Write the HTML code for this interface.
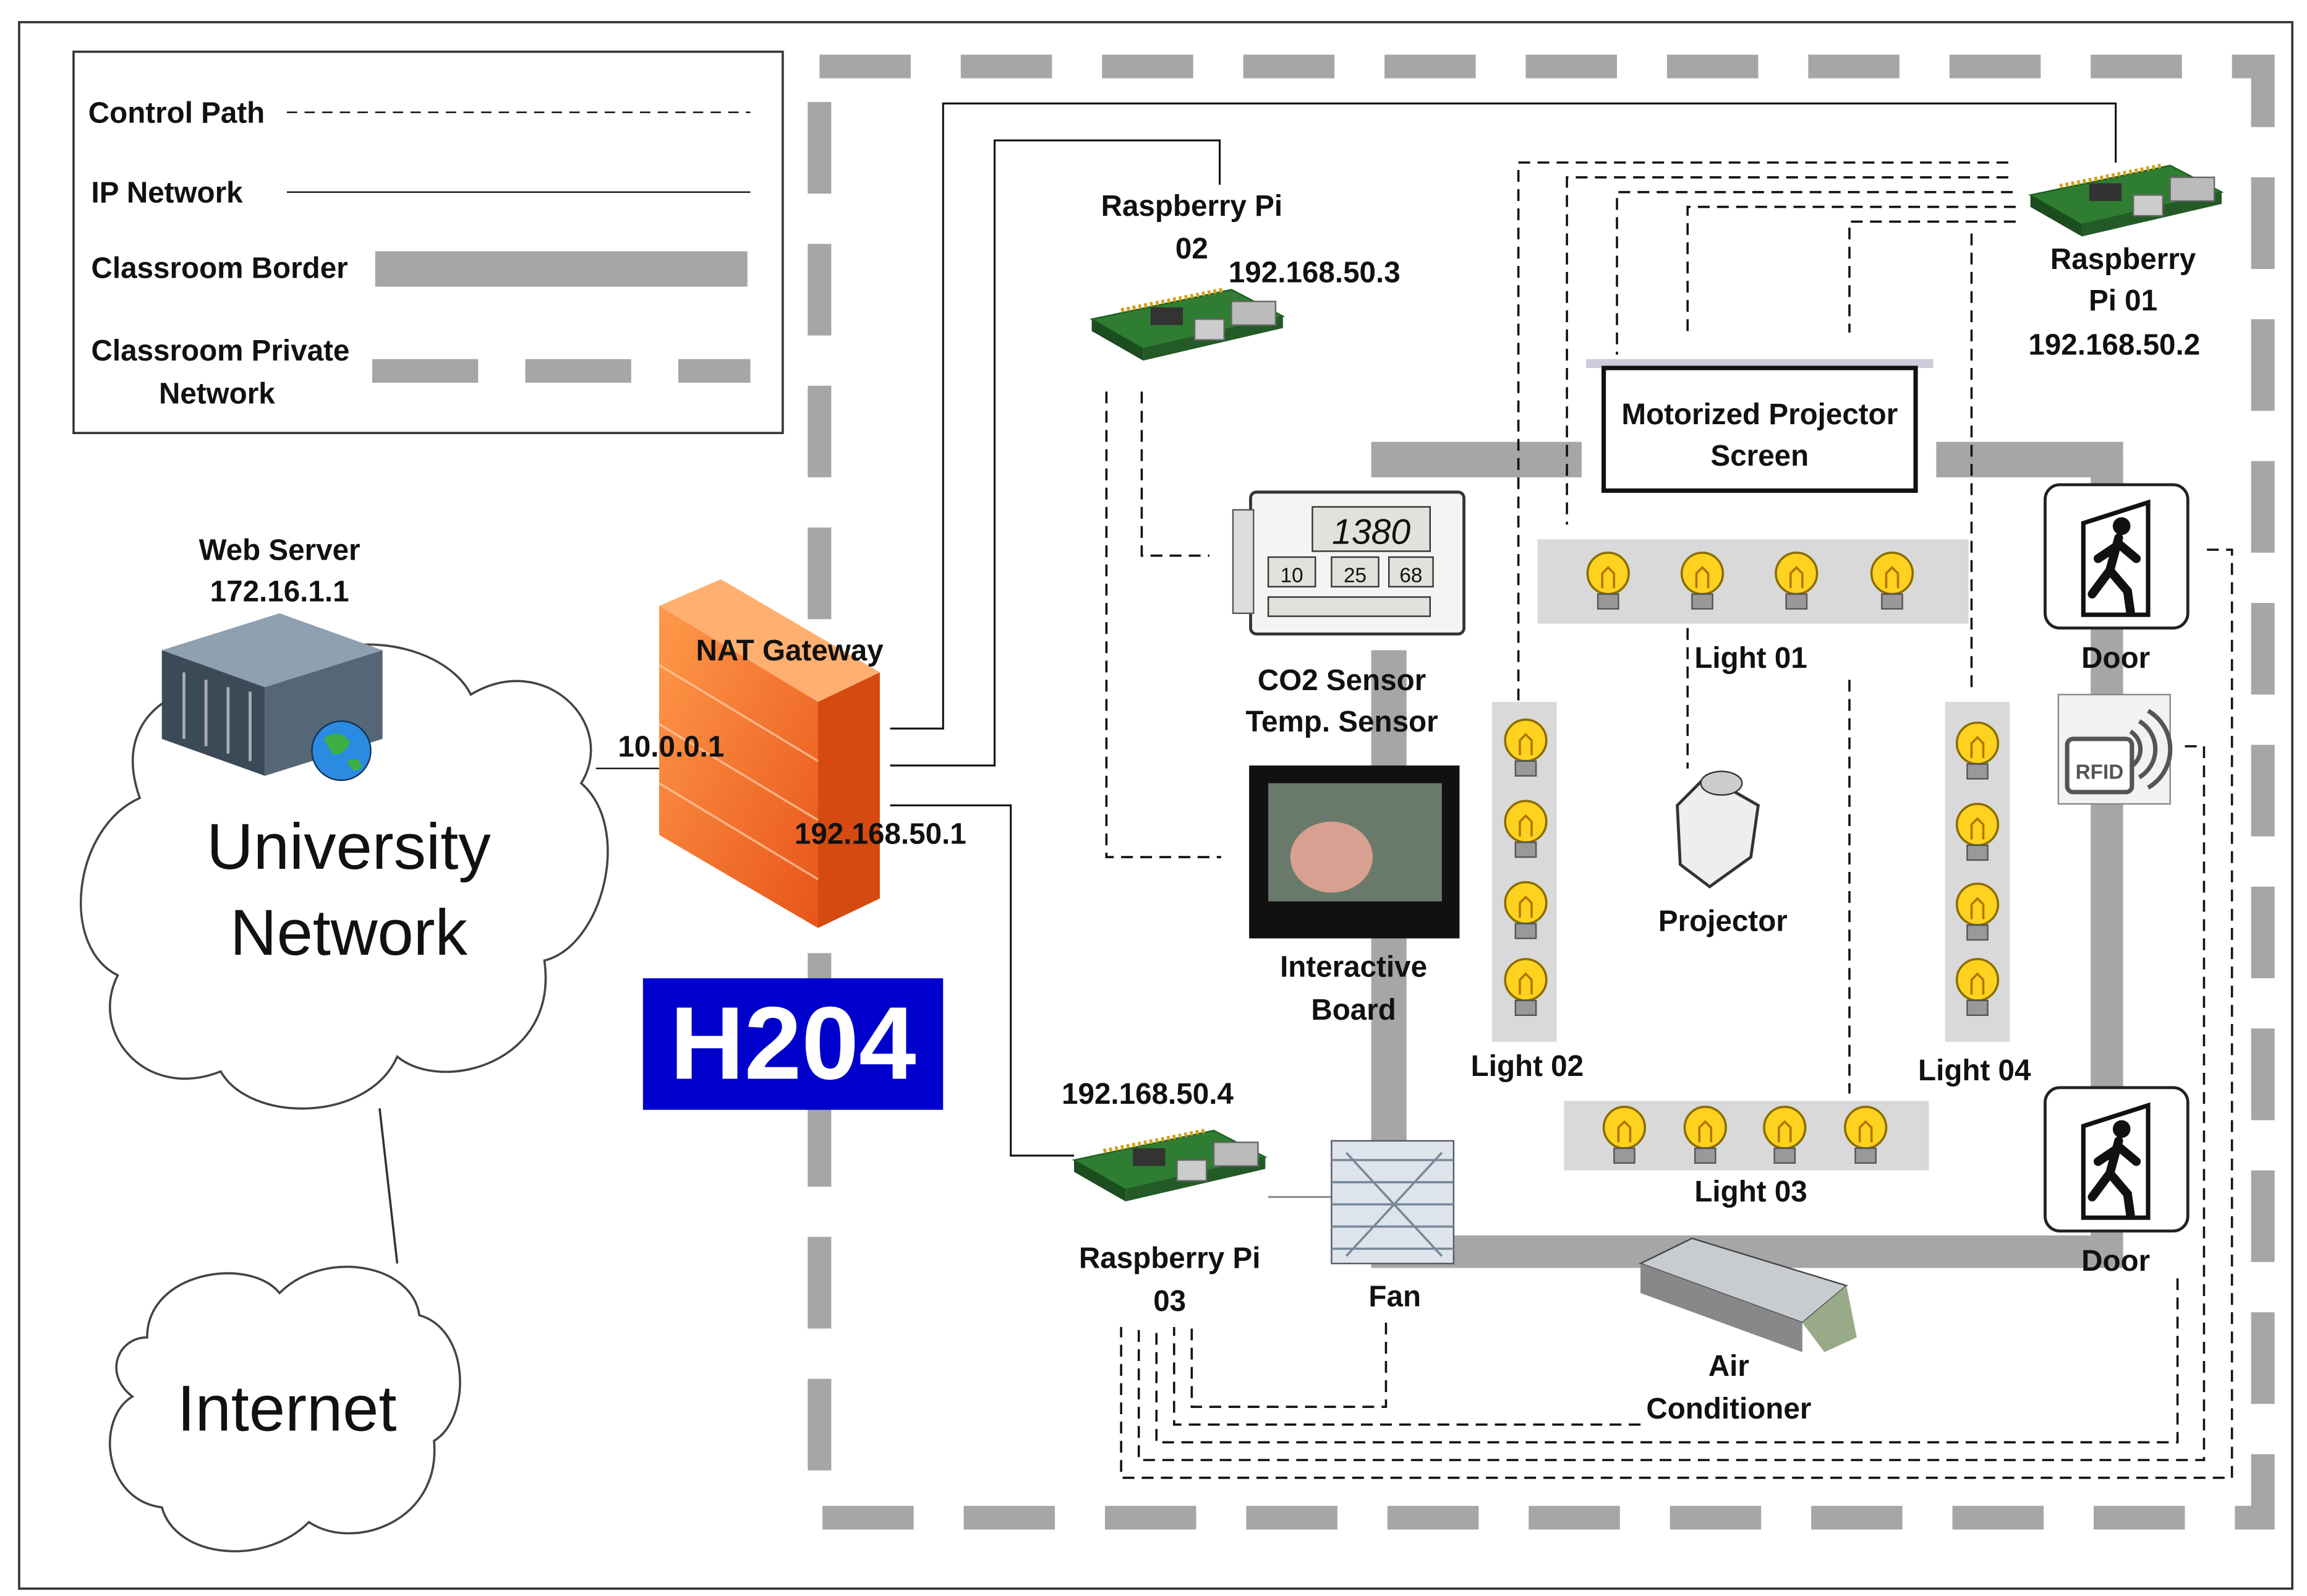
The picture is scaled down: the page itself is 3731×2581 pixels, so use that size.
<!DOCTYPE html>
<html><head><meta charset="utf-8"><style>
html,body{margin:0;padding:0;background:#fff;}
svg{display:block;}
text{font-family:"Liberation Sans",sans-serif;font-weight:bold;fill:#111;}
</style></head><body>
<svg width="3731" height="2581" viewBox="0 0 1568 1080" preserveAspectRatio="none" xmlns="http://www.w3.org/2000/svg">
<defs>
<linearGradient id="fw" x1="0" y1="0" x2="1" y2="1"><stop offset="0" stop-color="#ff9a4a"/><stop offset="1" stop-color="#e8541a"/></linearGradient>
<g id="pi">
 <polygon points="0,20 95,0 130,18 35,40" fill="#2e7d32" stroke="#1b5e20"/>
 <polygon points="0,20 35,40 35,48 0,28" fill="#1b4d1e"/>
 <polygon points="35,40 130,18 130,26 35,48" fill="#245a27"/>
 <rect x="95" y="8" width="30" height="16" fill="#bbb" stroke="#666"/>
 <rect x="70" y="20" width="20" height="14" fill="#ccc" stroke="#666"/>
 <rect x="40" y="12" width="22" height="12" fill="#333"/>
 <line x1="20" y1="14" x2="90" y2="0" stroke="#d4a017" stroke-width="3" stroke-dasharray="2 2"/>
</g>
<g id="bulb">
 <circle cx="0" cy="-4" r="14" fill="#ffd21f" stroke="#8a6d00" stroke-width="1.5"/>
 <path d="M-4,6 L-4,-4 L0,-8 L4,-4 L4,6" fill="none" stroke="#b37400" stroke-width="1.5"/>
 <rect x="-7" y="10" width="14" height="10" fill="#999" stroke="#555"/>
</g>
<g id="door">
 <rect x="0" y="0" width="97" height="97" rx="10" fill="#fff" stroke="#222" stroke-width="2"/>
 <polygon points="26,88 26,26 70,12 70,88" fill="none" stroke="#111" stroke-width="3"/>
 <circle cx="52" cy="28" r="6" fill="#111"/>
 <path d="M50,36 L44,58 L32,74 M44,58 L56,72 L58,86 M48,42 L36,50 M50,40 L62,50" stroke="#111" stroke-width="6" fill="none" stroke-linecap="round"/>
</g>
</defs>
<rect x="13" y="15" width="1545" height="1060" fill="#fff" stroke="#333" stroke-width="1.5"/>
<rect x="50" y="35" width="482" height="258" fill="#fff" stroke="#333" stroke-width="1.5"/>
<text x="60" y="83" font-size="20">Control Path</text>
<line x1="195" y1="76" x2="510" y2="76" stroke="#111" stroke-dasharray="7 5"/>
<text x="62" y="137" font-size="20">IP Network</text>
<line x1="195" y1="130" x2="510" y2="130" stroke="#111"/>
<text x="62" y="188" font-size="20">Classroom Border</text>
<rect x="255" y="170" width="253" height="24" fill="#a6a6a6"/>
<text x="62" y="244" font-size="20">Classroom Private</text>
<text x="108" y="273" font-size="20">Network</text>
<line x1="253" y1="251" x2="510" y2="251" stroke="#a6a6a6" stroke-width="16" stroke-dasharray="72 32"/>
<rect x="557" y="45" width="981" height="982" fill="none" stroke="#a6a6a6" stroke-width="16" stroke-dasharray="62 34"/>
<g fill="#a6a6a6">
<rect x="932" y="299" width="143" height="24"/>
<rect x="1316" y="299" width="127" height="24"/>
<rect x="1421" y="311" width="22" height="547"/>
<rect x="932" y="836" width="511" height="22"/>
<rect x="932" y="440" width="24" height="418"/>
</g>
<g fill="#d9d9d9">
<rect x="1045" y="365" width="293" height="57"/>
<rect x="1014" y="475" width="44" height="230"/>
<rect x="1322" y="475" width="44" height="230"/>
<rect x="1063" y="745" width="248" height="47"/>
</g>
<path d="M95,540 C70,470 150,450 190,470 C210,420 300,430 320,470 C370,440 420,490 395,530 C430,560 410,640 370,650 C380,720 300,740 270,715 C250,760 170,760 150,725 C100,745 60,700 80,660 C40,640 50,560 95,540 Z" fill="#fff" stroke="#444" stroke-width="1.5"/>
<text x="237" y="588" font-size="44" text-anchor="middle" style="font-weight:normal">University</text>
<text x="237" y="646" font-size="44" text-anchor="middle" style="font-weight:normal">Network</text>
<line x1="258" y1="750" x2="270" y2="855" stroke="#333" stroke-width="1.5"/>
<path d="M100,905 C100,860 170,850 190,875 C220,845 280,855 285,890 C320,900 320,960 295,975 C300,1030 240,1050 210,1030 C180,1060 120,1055 110,1020 C70,1015 65,960 90,945 C70,930 80,905 100,905 Z" fill="#fff" stroke="#444" stroke-width="1.5"/>
<text x="195" y="968" font-size="44" text-anchor="middle" style="font-weight:normal">Internet</text>
<polygon points="110,440 190,415 260,440 180,465" fill="#8fa0b0"/>
<polygon points="110,440 180,465 180,525 110,500" fill="#3c4a58"/>
<polygon points="180,465 260,440 260,500 180,525" fill="#556676"/>
<g stroke="#aab" stroke-width="2"><line x1="125" y1="455" x2="125" y2="500"/><line x1="140" y1="460" x2="140" y2="505"/><line x1="155" y1="465" x2="155" y2="510"/><line x1="170" y1="468" x2="170" y2="515"/></g>
<circle cx="232" cy="508" r="20" fill="#2a8be0" stroke="#135"/>
<path d="M220,500 q10,-8 18,2 q-4,10 -12,8 z M236,515 q8,-4 10,4 q-6,6 -10,-4z" fill="#3cb043"/>
<text x="190" y="379" font-size="20" text-anchor="middle">Web Server</text>
<text x="190" y="407" font-size="20" text-anchor="middle">172.16.1.1</text>
<line x1="405" y1="520" x2="450" y2="520" stroke="#111"/>
<polygon points="448,410 490,392 598,455 556,475" fill="#ffb070"/>
<polygon points="448,410 556,475 556,628 448,565" fill="url(#fw)"/>
<polygon points="556,475 598,455 598,608 556,628" fill="#d44a10"/>
<g stroke="#ffd0a8" stroke-width="1.5" opacity="0.7"><line x1="448" y1="450" x2="556" y2="515"/><line x1="448" y1="490" x2="556" y2="555"/><line x1="448" y1="530" x2="556" y2="595"/></g>
<text x="473" y="447" font-size="20">NAT Gateway</text>
<text x="420" y="512" font-size="20">10.0.0.1</text>
<text x="540" y="571" font-size="20">192.168.50.1</text>
<rect x="437" y="662" width="204" height="89" fill="#0000cc"/>
<text x="539" y="730" font-size="70" text-anchor="middle" style="fill:#fff">H204</text>
<g fill="none" stroke="#111" stroke-width="1.3">
<polyline points="605,493 641,493 641,70 1438,70 1438,110"/>
<polyline points="605,518 676,518 676,95 829,95 829,125"/>
<polyline points="605,545 687,545 687,782 730,782"/>
<line x1="862" y1="810" x2="905" y2="810" stroke="#888"/>
</g>
<g fill="none" stroke="#111" stroke-width="1.5" stroke-dasharray="8 5">
<polyline points="752,265 752,580 830,580"/>
<polyline points="776,265 776,376 822,376"/>
<polyline points="1365,110 1032,110 1032,475"/>
<polyline points="1365,120 1065,120 1065,355"/>
<polyline points="1368,130 1099,130 1099,240"/>
<polyline points="1370,140 1147,140 1147,225"/>
<polyline points="1147,425 1147,520"/>
<polyline points="1370,150 1257,150 1257,225"/>
<polyline points="1257,460 1257,740"/>
<polyline points="1340,158 1340,470"/>
<polyline points="1500,372 1517,372 1517,1000 762,1000 762,898"/>
<polyline points="1485,505 1498,505 1498,988 774,988 774,898"/>
<polyline points="1480,865 1480,976 786,976 786,898"/>
<polyline points="1115,964 798,964 798,898"/>
<polyline points="942,895 942,952 810,952 810,898"/>
</g>
<use href="#pi" x="742" y="196"/>
<use href="#pi" x="1380" y="112"/>
<use href="#pi" x="730" y="765"/>
<text x="810" y="146" font-size="20" text-anchor="middle">Raspberry Pi</text>
<text x="810" y="175" font-size="20" text-anchor="middle">02</text>
<text x="835" y="191" font-size="20">192.168.50.3</text>
<text x="1443" y="182" font-size="20" text-anchor="middle">Raspberry</text>
<text x="1443" y="210" font-size="20" text-anchor="middle">Pi 01</text>
<text x="1437" y="240" font-size="20" text-anchor="middle">192.168.50.2</text>
<text x="780" y="747" font-size="20" text-anchor="middle">192.168.50.4</text>
<text x="795" y="858" font-size="20" text-anchor="middle">Raspberry Pi</text>
<text x="795" y="887" font-size="20" text-anchor="middle">03</text>
<rect x="1078" y="243" width="236" height="6" fill="#ccd"/>
<rect x="1090" y="249" width="212" height="83" fill="#fff" stroke="#111" stroke-width="3"/>
<text x="1196" y="287" font-size="20" text-anchor="middle">Motorized Projector</text>
<text x="1196" y="315" font-size="20" text-anchor="middle">Screen</text>
<rect x="850" y="333" width="145" height="96" rx="4" fill="#f4f4f4" stroke="#333" stroke-width="2"/>
<rect x="838" y="345" width="14" height="70" fill="#ddd" stroke="#555"/>
<rect x="892" y="343" width="80" height="30" fill="#dfe3dc" stroke="#333"/>
<text x="932" y="368" font-size="24" text-anchor="middle" style="font-style:italic;font-weight:normal">1380</text>
<rect x="862" y="377" width="32" height="20" fill="#dfe3dc" stroke="#333"/><text x="878" y="394" font-size="14" text-anchor="middle" style="font-weight:normal">10</text>
<rect x="905" y="377" width="32" height="20" fill="#dfe3dc" stroke="#333"/><text x="921" y="394" font-size="14" text-anchor="middle" style="font-weight:normal">25</text>
<rect x="944" y="377" width="30" height="20" fill="#dfe3dc" stroke="#333"/><text x="959" y="394" font-size="14" text-anchor="middle" style="font-weight:normal">68</text>
<rect x="862" y="404" width="110" height="13" fill="#dfe3dc" stroke="#333"/>
<text x="912" y="467" font-size="20" text-anchor="middle">CO2 Sensor</text>
<text x="912" y="495" font-size="20" text-anchor="middle">Temp. Sensor</text>
<rect x="849" y="518" width="143" height="117" fill="#111"/>
<rect x="862" y="530" width="118" height="80" fill="#6a7a6a"/>
<ellipse cx="905" cy="580" rx="28" ry="24" fill="#d8a090"/>
<text x="920" y="661" font-size="20" text-anchor="middle">Interactive</text>
<text x="920" y="690" font-size="20" text-anchor="middle">Board</text>
<use href="#bulb" x="1093" y="392"/><use href="#bulb" x="1157" y="392"/><use href="#bulb" x="1221" y="392"/><use href="#bulb" x="1286" y="392"/>
<text x="1190" y="452" font-size="20" text-anchor="middle">Light 01</text>
<use href="#bulb" x="1037" y="505"/><use href="#bulb" x="1037" y="560"/><use href="#bulb" x="1037" y="615"/><use href="#bulb" x="1037" y="667"/>
<text x="1038" y="728" font-size="20" text-anchor="middle">Light 02</text>
<use href="#bulb" x="1344" y="507"/><use href="#bulb" x="1344" y="562"/><use href="#bulb" x="1344" y="616"/><use href="#bulb" x="1344" y="667"/>
<text x="1342" y="731" font-size="20" text-anchor="middle">Light 04</text>
<use href="#bulb" x="1104" y="767"/><use href="#bulb" x="1159" y="767"/><use href="#bulb" x="1213" y="767"/><use href="#bulb" x="1268" y="767"/>
<text x="1190" y="813" font-size="20" text-anchor="middle">Light 03</text>
<polygon points="1140,545 1160,525 1195,545 1190,580 1162,600 1142,585" fill="#eee" stroke="#333" stroke-width="2"/>
<ellipse cx="1170" cy="530" rx="14" ry="8" fill="#ccc" stroke="#333"/>
<text x="1171" y="630" font-size="20" text-anchor="middle">Projector</text>
<rect x="905" y="772" width="83" height="83" fill="#dde4ec" stroke="#556"/>
<g stroke="#789" stroke-width="1.5"><line x1="905" y1="785" x2="988" y2="785"/><line x1="905" y1="800" x2="988" y2="800"/><line x1="905" y1="815" x2="988" y2="815"/><line x1="905" y1="830" x2="988" y2="830"/><line x1="905" y1="845" x2="988" y2="845"/><line x1="915" y1="780" x2="980" y2="850"/><line x1="980" y1="780" x2="915" y2="850"/></g>
<text x="948" y="884" font-size="20" text-anchor="middle">Fan</text>
<polygon points="1115,855 1150,838 1255,870 1225,895" fill="#c8ccd0" stroke="#444"/>
<polygon points="1115,855 1225,895 1225,915 1115,875" fill="#888"/>
<polygon points="1225,895 1255,870 1262,905 1240,915" fill="#9a8"/>
<text x="1175" y="931" font-size="20" text-anchor="middle">Air</text>
<text x="1175" y="960" font-size="20" text-anchor="middle">Conditioner</text>
<use href="#door" x="1390" y="328"/>
<text x="1438" y="452" font-size="20" text-anchor="middle">Door</text>
<use href="#door" x="1390" y="736"/>
<text x="1438" y="860" font-size="20" text-anchor="middle">Door</text>
<rect x="1399" y="470" width="76" height="74" fill="#f2f2f2" stroke="#888"/>
<rect x="1405" y="500" width="44" height="36" rx="4" fill="#fff" stroke="#555" stroke-width="3"/>
<text x="1427" y="527" font-size="14" text-anchor="middle" style="fill:#555">RFID</text>
<path d="M1448,495 a14,14 0 0,1 0,24 M1454,488 a22,22 0 0,1 0,38 M1460,481 a30,30 0 0,1 0,52" fill="none" stroke="#555" stroke-width="3"/>
</svg>
</body></html>
